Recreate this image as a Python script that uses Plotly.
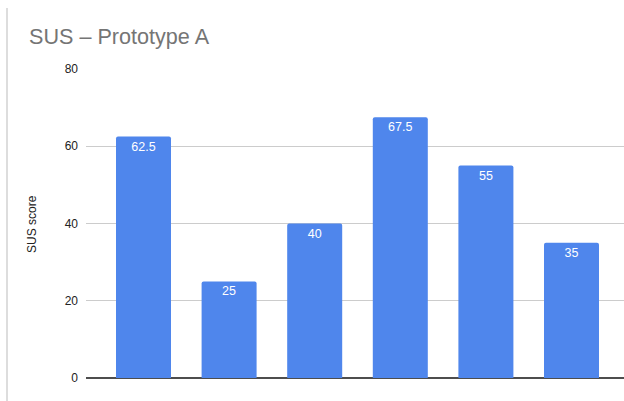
import plotly.graph_objects as go

# SUS scores per participant for Prototype A
participants = ["P1", "P2", "P3", "P4", "P5", "P6"]
sus_scores = [62.5, 25, 40, 67.5, 55, 35]
y_ticks = [0, 20, 40, 60, 80]

W, H = 624, 401
FONT = "Arial, Liberation Sans, sans-serif"
BAR_COLOR = "#4f86ec"

# Plot area in pixels
left_px, right_px = 86, 624
top_px, bottom_px = 69, 378
unit_px = 85.6          # distance between bar centres
first_center_px = 143.5

positions = list(range(len(participants)))
x_lo = (left_px - first_center_px) / unit_px
x_hi = (right_px - first_center_px) / unit_px

fig = go.Figure(
    go.Bar(
        x=positions,
        y=sus_scores,
        width=55 / unit_px,
        marker=dict(color=BAR_COLOR, line=dict(width=0)),
        marker_cornerradius=2,
        text=[f"{v:g}" for v in sus_scores],
        textposition="inside",
        insidetextanchor="end",
        textangle=0,
        constraintext="none",
        textfont=dict(color="white", size=12.5, family=FONT),
        hoverinfo="skip",
    )
)

pw = right_px - left_px
ph = bottom_px - top_px


def px_x(p):
    return (p - left_px) / pw


def px_y(p):
    return (bottom_px - p) / ph


fig.update_layout(
    width=W,
    height=H,
    margin=dict(l=left_px, r=W - right_px, t=top_px, b=H - bottom_px, pad=0),
    paper_bgcolor="white",
    plot_bgcolor="white",
    showlegend=False,
    font=dict(family=FONT, color="#222222", size=12),
    xaxis=dict(
        range=[x_lo, x_hi],
        tickvals=positions,
        ticktext=participants,
        showticklabels=False,
        showgrid=False,
        zeroline=False,
        showline=False,
        ticks="",
    ),
    yaxis=dict(
        range=[0, 80],
        tickvals=y_ticks,
        ticktext=[str(t) for t in y_ticks],
        showgrid=True,
        gridcolor="#cccccc",
        gridwidth=1,
        zeroline=True,
        zerolinecolor="#4d4d4d",
        zerolinewidth=1.5,
        showline=False,
        ticks="",
        ticklabelstandoff=7,
        tickfont=dict(size=12, color="#222222", family=FONT),
    ),
    annotations=[
        dict(
            text="SUS – Prototype A",
            xref="paper", yref="paper",
            x=px_x(27), y=px_y(37),
            xanchor="left", yanchor="middle",
            showarrow=False,
            font=dict(size=21.6, color="#757575", family=FONT),
        ),
        dict(
            text="SUS score",
            xref="paper", yref="paper",
            x=px_x(32), y=px_y(224),
            xanchor="center", yanchor="middle",
            textangle=-90,
            showarrow=False,
            font=dict(size=12, color="#222222", family=FONT),
        ),
    ],
    shapes=[
        dict(
            type="line",
            xref="paper", yref="paper",
            x0=px_x(7), x1=px_x(7),
            y0=px_y(8), y1=px_y(401),
            line=dict(color="#bbbbbb", width=1),
        )
    ],
)

fig.write_html("out.html")
